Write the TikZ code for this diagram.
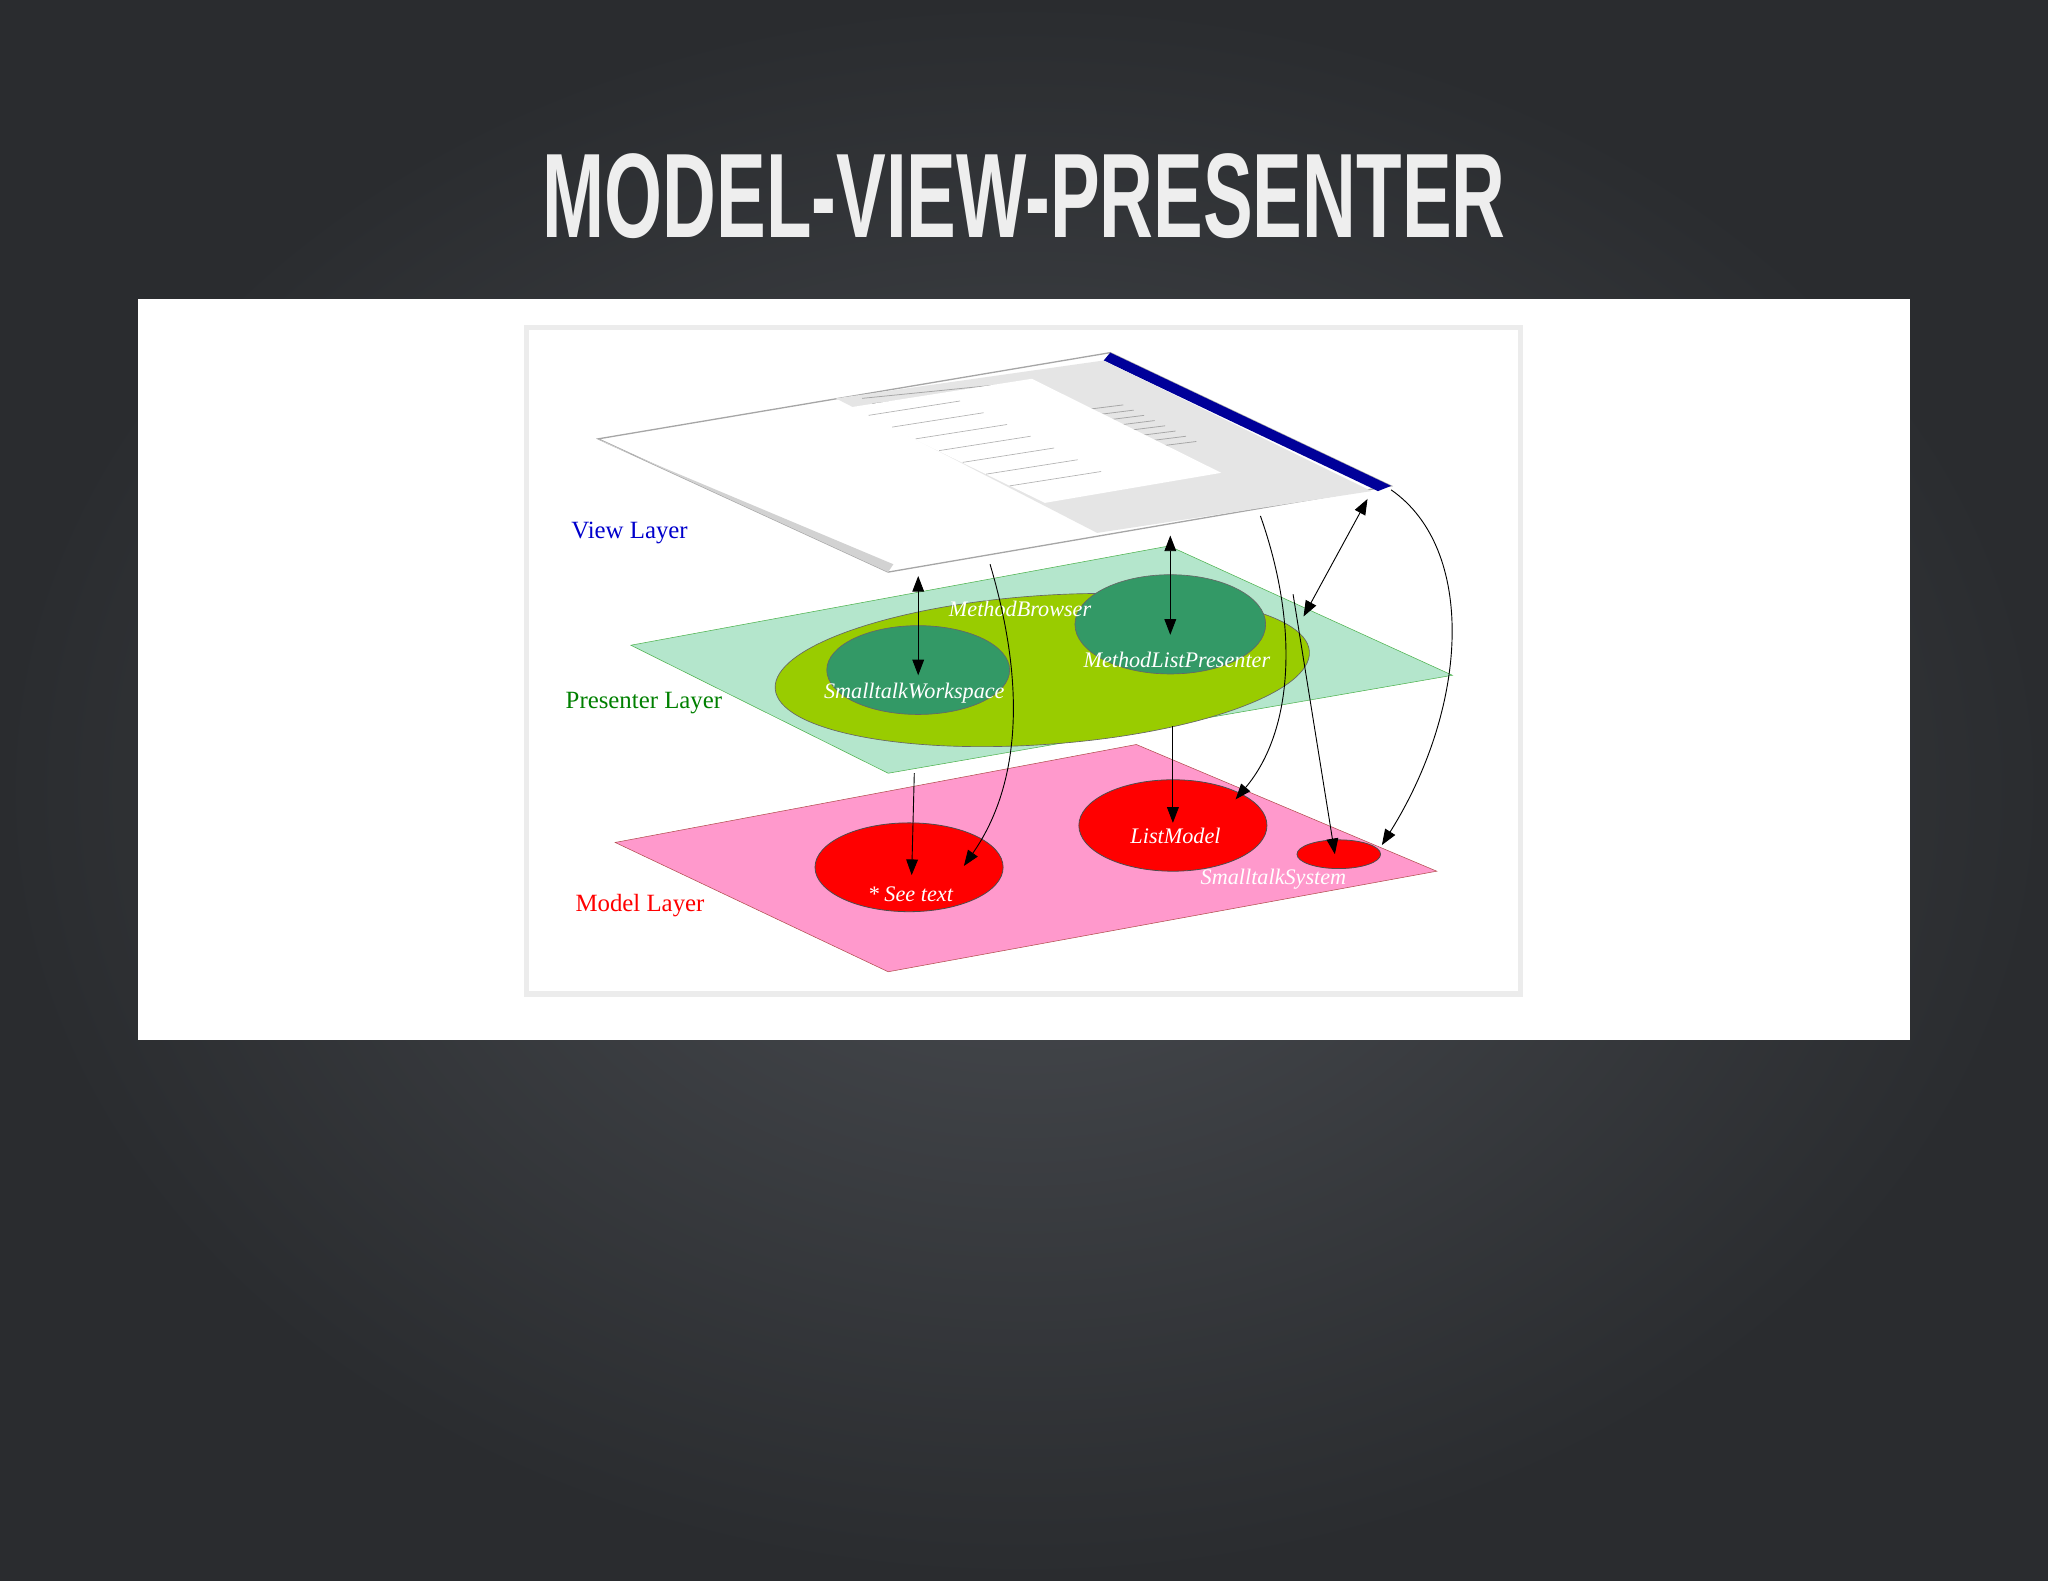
\documentclass[tikz,border=0pt]{standalone}
\usepackage{fontspec}
\setmainfont{Liberation Serif}
\newfontfamily\titlefont{Liberation Sans}
\usetikzlibrary{arrows.meta,shapes.geometric}
\definecolor{bgout}{HTML}{2A2C2F}
\definecolor{bgin}{HTML}{4A4D52}
\definecolor{mint}{HTML}{B4E6CC}
\definecolor{ygreen}{HTML}{99CC00}
\definecolor{dgreen}{HTML}{339966}
\definecolor{pinkp}{HTML}{FF99CC}
\begin{document}
\begin{tikzpicture}[x=1pt,y=-1pt,
  arr/.style={-{Triangle[length=12pt,width=9pt]},black,line width=0.7pt},
  darr/.style={{Triangle[length=12pt,width=9pt]}-{Triangle[length=12pt,width=9pt]},black,line width=0.7pt},
  wlab/.style={text=white,font=\itshape\fontsize{17}{17}\selectfont,inner sep=0pt},
  layer/.style={font=\fontsize{19}{19}\selectfont,inner sep=0pt}]
\useasboundingbox (0,0) rectangle (1568,1210);
\shade[inner color=bgin,outer color=bgout] (0,0) rectangle (1568,1210);
\node (title) at (784,150) {\titlefont\bfseries\color[HTML]{EEEEEE}\scalebox{0.62}[1]{\fontsize{92}{92}\selectfont MODEL-VIEW-PRESENTER}};
\fill[white] (106,229) rectangle (1462,796);
\draw[gray!15,line width=4pt] (403,251) rectangle (1164,761);
% view layer window
\filldraw[fill=white,draw=gray!70,line width=1pt] (458,336) -- (850,270) -- (1065,372) -- (680,438) -- cycle;
\fill[gray!35] (458,336) -- (465,340) -- (684,432) -- (680,438) -- cycle;
\fill[blue!60!black] (850,270) -- (1065,372) -- (1055,376) -- (845,276) -- cycle;
\fill[gray!20] (640,305) -- (845,276) -- (1050,376) -- (840,408) -- cycle;
\foreach \i in {0,...,9} \draw[gray!70,line width=0.6pt] ({660+8*\i},{305+4*\i}) -- ({760+8*\i},{295+4*\i});
\foreach \i in {0,...,7} \draw[gray!70,line width=0.6pt] ({780+8*\i},{320+4*\i}) -- ({860+8*\i},{310+4*\i});
\fill[white] (650,312) -- (790,290) -- (935,362) -- (800,385) -- cycle;
\foreach \i in {0,...,6} \draw[gray!60,line width=0.5pt] ({665+18*\i},{318+9*\i}) -- ({735+18*\i},{307+9*\i});
% presenter plane
\filldraw[fill=mint,draw=gray!60!green] (483,494) -- (895,418) -- (1112,517) -- (680,592) -- cycle;
\filldraw[fill=ygreen,draw=black!60,line width=0.5pt,rotate around={4:(798,513)}] (798,513) ellipse (205 and 57);
\filldraw[fill=dgreen,draw=black!60,line width=0.5pt] (703,513) ellipse (70 and 34);
\filldraw[fill=dgreen,draw=black!60,line width=0.5pt] (896,478) ellipse (73 and 38);
% model plane
\filldraw[fill=pinkp,draw=gray!60!red] (471,645) -- (870,570) -- (1100,667) -- (680,744) -- cycle;
\filldraw[fill=red,draw=black!70,line width=0.6pt] (696,664) ellipse (72 and 34);
\filldraw[fill=red,draw=black!70,line width=0.6pt] (898,632) ellipse (72 and 35);
\filldraw[fill=red,draw=black!70,line width=0.6pt] (1025,654) ellipse (32 and 11);
% labels
\node[layer,text=blue!80!black] (vl) at (482,408) {View Layer};
\node[layer,text=green!50!black] (pl) at (493,538) {Presenter Layer};
\node[layer,text=red] (ml) at (490,693) {Model Layer};
\node[wlab] (mb) at (781,466) {MethodBrowser};
\node[wlab] (mlp) at (901,505) {MethodListPresenter};
\node[wlab] (sw) at (700,531) {SmalltalkWorkspace};
\node[wlab] (lm) at (900,640) {ListModel};
\node[wlab] (st) at (697,685) {* See text};
\node[wlab] (ss) at (975,673) {SmalltalkSystem};
% arrow coordinates
\coordinate (a1) at (703,441); \coordinate (a2) at (703,517);
\coordinate (b1) at (896,410); \coordinate (b2) at (896,486);
\coordinate (c1) at (700,592); \coordinate (c2) at (698,670);
\coordinate (d1) at (898,556); \coordinate (d2) at (898,630);
\coordinate (e1) at (758,432); \coordinate (e2) at (738,663);
\coordinate (f1) at (965,395); \coordinate (f2) at (946,612);
\coordinate (g1) at (990,455); \coordinate (g2) at (1022,654);
\coordinate (h1) at (998,472); \coordinate (h2) at (1047,382);
\coordinate (i1) at (1065,375); \coordinate (i2) at (1058,647);
\draw[darr] (a1) -- (a2);
\draw[darr] (b1) -- (b2);
\draw[arr] (c1) -- (c2);
\draw[arr] (d1) -- (d2);
\draw[arr] (e1) .. controls (790,540) and (775,610) .. (e2);
\draw[arr] (f1) .. controls (995,480) and (990,560) .. (f2);
\draw[arr] (g1) -- (g2);
\draw[darr] (h1) -- (h2);
\draw[arr] (i1) .. controls (1130,420) and (1125,540) .. (i2);
\end{tikzpicture}
\end{document}
